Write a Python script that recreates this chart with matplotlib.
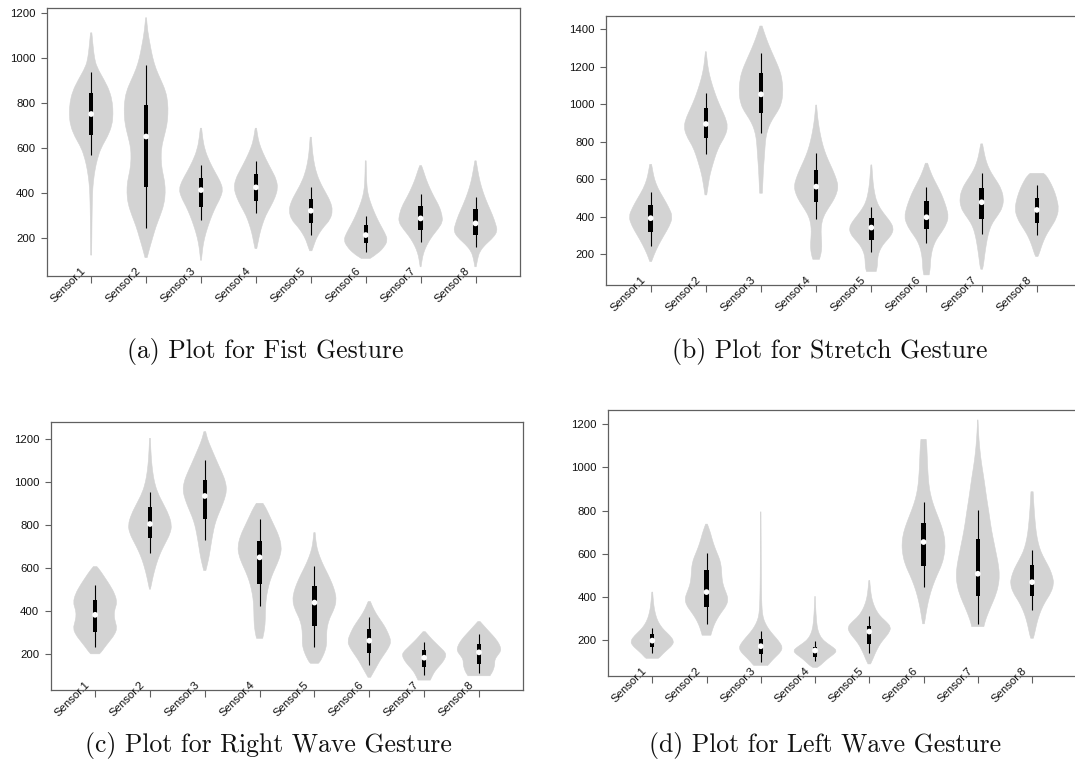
import matplotlib
matplotlib.use('Agg')
import matplotlib.pyplot as plt
from matplotlib.path import Path
from matplotlib.patches import PathPatch
import matplotlib.transforms as mtransforms

plt.rcParams['font.family'] = ['Liberation Sans', 'DejaVu Sans']

sensors = ['Sensor.1', 'Sensor.2', 'Sensor.3', 'Sensor.4',
           'Sensor.5', 'Sensor.6', 'Sensor.7', 'Sensor.8']

captions = ['(a) Plot for Fist Gesture', '(b) Plot for Stretch Gesture',
            '(c) Plot for Right Wave Gesture', '(d) Plot for Left Wave Gesture']

# ---------------- (a) Fist ----------------
fist_median = [750, 650, 412, 424, 320, 212, 286, 264]
fist_q1 = [658, 424, 338, 365, 267, 175, 234, 212]
fist_q3 = [843, 790, 465, 484, 372, 255, 341, 328]
fist_wlo = [568, 242, 279, 308, 212, 138, 182, 157]
fist_whi = [935, 970, 524, 542, 427, 296, 395, 383]
fist_profiles = [
    [(1111, .03), (1080, .06), (1040, .1), (1000, .15), (960, .25), (900, .6), (850, .85), (800, .97),
     (750, 1.0), (700, .95), (650, .75), (600, .45), (550, .28), (500, .17), (450, .1), (400, .06),
     (300, .04), (200, .03), (123, .02)],
    [(1178, .02), (1120, .07), (1050, .2), (1000, .3), (950, .45), (900, .68), (850, .9), (800, .99),
     (750, 1.0), (700, .95), (650, .82), (600, .7), (550, .68), (500, .73), (450, .85), (400, .88),
     (350, .82), (300, .65), (250, .45), (200, .3), (150, .15), (112, .05)],
    [(687, .03), (640, .08), (590, .18), (540, .38), (490, .65), (450, .88), (415, 1.0), (380, .9),
     (340, .68), (300, .5), (260, .35), (220, .22), (180, .12), (140, .06), (100, .02)],
    [(687, .03), (640, .1), (600, .22), (550, .45), (500, .72), (460, .93), (420, 1.0), (380, .88),
     (340, .68), (300, .45), (260, .3), (220, .18), (180, .1), (152, .04)],
    [(647, .03), (600, .06), (550, .12), (500, .22), (450, .4), (400, .68), (360, .9), (320, 1.0),
     (280, .88), (250, .6), (220, .38), (190, .22), (160, .12), (142, .05)],
    [(542, .02), (480, .03), (420, .06), (380, .14), (340, .28), (300, .45), (260, .65), (220, .88),
     (190, 1.0), (160, .85), (130, .55), (108, .2)],
    [(521, .04), (500, .12), (460, .25), (420, .42), (380, .62), (340, .85), (300, .98), (270, 1.0),
     (240, .8), (210, .55), (180, .35), (150, .2), (120, .1), (90, .05), (71, .02)],
    [(542, .03), (500, .1), (450, .2), (400, .35), (350, .55), (300, .78), (260, .92), (230, 1.0),
     (200, .8), (170, .45), (140, .2), (110, .1), (71, .03)],
]

# ---------------- (b) Stretch ----------------
stretch_median = [392, 894, 1052, 560, 342, 397, 477, 436]
stretch_q1 = [317, 818, 951, 477, 276, 333, 388, 369]
stretch_q3 = [461, 977, 1167, 649, 392, 486, 553, 502]
stretch_wlo = [244, 734, 844, 388, 214, 259, 307, 300]
stretch_whi = [530, 1057, 1270, 738, 450, 560, 635, 568]
stretch_profiles = [
    [(679, .04), (640, .1), (600, .17), (550, .33), (500, .58), (450, .82), (400, 1.0), (350, .85),
     (300, .6), (250, .36), (200, .16), (161, .04)],
    [(1279, .02), (1230, .06), (1180, .12), (1130, .22), (1080, .35), (1030, .5), (980, .68), (930, .88),
     (880, 1.0), (830, .88), (780, .62), (730, .45), (680, .32), (630, .2), (580, .12), (516, .04)],
    [(1416, .05), (1380, .15), (1330, .3), (1280, .48), (1230, .67), (1180, .85), (1130, .96), (1060, 1.0),
     (1000, .92), (960, .75), (920, .52), (880, .35), (840, .25), (800, .2), (750, .17), (700, .14),
     (650, .11), (600, .09), (525, .06)],
    [(995, .02), (950, .05), (900, .1), (850, .17), (800, .26), (750, .38), (700, .55), (650, .75),
     (600, .92), (560, 1.0), (520, .92), (480, .75), (440, .52), (400, .33), (360, .24), (320, .22),
     (280, .24), (240, .26), (200, .22), (173, .15)],
    [(676, .02), (630, .05), (580, .08), (530, .14), (480, .24), (440, .42), (400, .68), (370, .88),
     (340, 1.0), (310, .95), (280, .75), (250, .52), (220, .38), (190, .3), (160, .28), (130, .27),
     (108, .22)],
    [(685, .05), (660, .12), (620, .25), (580, .42), (540, .6), (500, .75), (450, .9), (400, 1.0),
     (360, .9), (320, .7), (280, .45), (240, .3), (200, .22), (160, .18), (120, .17), (90, .12)],
    [(788, .04), (750, .1), (710, .17), (670, .28), (630, .45), (590, .68), (550, .88), (500, 1.0),
     (450, .95), (410, .75), (370, .5), (330, .35), (280, .25), (230, .18), (180, .12), (140, .08),
     (120, .04)],
    [(631, .3), (620, .42), (590, .58), (550, .75), (500, .9), (440, 1.0), (390, .88), (350, .68),
     (310, .46), (270, .3), (230, .18), (200, .1), (188, .05)],
]

# ---------------- (c) Right Wave ----------------
rwave_median = [383, 805, 935, 650, 440, 263, 184, 209]
rwave_q1 = [305, 739, 827, 527, 329, 205, 140, 154]
rwave_q3 = [452, 883, 1010, 728, 517, 316, 220, 248]
rwave_wlo = [233, 669, 731, 424, 236, 150, 104, 112]
rwave_whi = [522, 952, 1102, 828, 610, 372, 259, 293]
rwave_profiles = [
    [(607, .08), (590, .22), (560, .42), (520, .68), (480, .9), (440, 1.0), (410, .9), (380, .86),
     (350, .92), (320, 1.0), (290, .88), (260, .65), (230, .42), (210, .28), (202, .2)],
    [(1203, .02), (1150, .04), (1100, .07), (1050, .12), (1000, .2), (950, .35), (900, .6), (850, .85),
     (800, 1.0), (760, .92), (720, .72), (680, .52), (640, .36), (600, .24), (560, .14), (520, .06),
     (502, .02)],
    [(1234, .04), (1200, .12), (1160, .28), (1120, .45), (1080, .62), (1040, .8), (1000, .95), (960, 1.0),
     (920, .9), (880, .75), (840, .58), (800, .45), (760, .37), (720, .3), (680, .24), (640, .17),
     (610, .1), (589, .05)],
    [(901, .15), (880, .28), (850, .42), (800, .65), (750, .88), (700, 1.0), (660, .95), (620, .8),
     (580, .62), (540, .47), (500, .37), (460, .3), (420, .27), (380, .26), (340, .25), (300, .2),
     (274, .14)],
    [(765, .03), (730, .06), (690, .12), (650, .25), (610, .42), (570, .62), (530, .8), (490, .94),
     (450, 1.0), (410, .9), (370, .7), (330, .58), (290, .55), (250, .56), (220, .5), (190, .38),
     (165, .25), (158, .18)],
    [(445, .05), (420, .15), (390, .3), (360, .5), (330, .7), (300, .85), (260, 1.0), (230, .88),
     (200, .68), (170, .48), (140, .32), (115, .18), (93, .06)],
    [(305, .05), (290, .18), (270, .35), (250, .55), (230, .75), (210, .95), (195, 1.0), (175, .92),
     (155, .78), (135, .6), (115, .45), (95, .35), (80, .28)],
    [(352, .05), (335, .2), (310, .42), (285, .65), (260, .85), (235, .98), (215, 1.0), (195, .85),
     (175, .72), (155, .72), (135, .68), (115, .6), (100, .5)],
]

# ---------------- (d) Left Wave ----------------
lwave_median = [197, 422, 171, 151, 239, 654, 507, 468]
lwave_q1 = [166, 355, 135, 120, 182, 543, 403, 406]
lwave_q3 = [228, 523, 205, 169, 265, 740, 670, 549]
lwave_wlo = [138, 275, 100, 101, 138, 445, 275, 337]
lwave_whi = [256, 605, 241, 194, 309, 840, 802, 616]
lwave_profiles = [
    [(422, .02), (380, .05), (340, .1), (300, .2), (270, .35), (245, .55), (220, .82), (195, 1.0),
     (175, .92), (155, .7), (135, .48), (120, .35), (115, .28)],
    [(737, .04), (715, .12), (690, .2), (660, .28), (630, .38), (600, .5), (570, .62), (540, .68),
     (510, .7), (480, .72), (450, .78), (420, .9), (390, 1.0), (360, .92), (330, .7), (300, .5),
     (270, .35), (240, .25), (222, .2)],
    [(794, .01), (700, .015), (600, .02), (500, .025), (420, .035), (360, .05), (320, .08), (290, .15),
     (260, .3), (235, .48), (210, .7), (185, .9), (165, 1.0), (145, .92), (125, .72), (105, .52),
     (88, .38), (82, .32)],
    [(402, .01), (350, .03), (300, .06), (260, .1), (230, .18), (205, .32), (185, .55), (165, .85),
     (150, 1.0), (135, .88), (115, .6), (95, .38), (80, .22), (73, .1)],
    [(476, .02), (440, .05), (400, .1), (370, .18), (340, .3), (310, .5), (285, .78), (260, 1.0),
     (235, .92), (210, .72), (185, .52), (160, .38), (135, .26), (110, .16), (89, .06)],
    [(1130, .12), (1100, .15), (1050, .17), (1000, .19), (950, .22), (900, .27), (850, .38), (800, .55),
     (750, .75), (700, .92), (650, 1.0), (600, .97), (550, .85), (500, .62), (450, .42), (400, .27),
     (350, .16), (300, .08), (275, .04)],
    [(1220, .01), (1150, .04), (1100, .08), (1050, .13), (1000, .2), (950, .28), (900, .35), (850, .42),
     (800, .5), (750, .57), (700, .65), (650, .75), (600, .85), (550, .95), (500, 1.0), (450, .95),
     (400, .8), (350, .58), (310, .42), (280, .32), (262, .28)],
    [(887, .05), (850, .07), (800, .1), (750, .14), (700, .19), (650, .28), (610, .4), (570, .6),
     (530, .82), (490, .96), (460, 1.0), (420, .88), (380, .62), (340, .42), (300, .28), (260, .18),
     (230, .12), (208, .06)],
]

W, H = 1075, 773
fig = plt.figure(figsize=(W / 100, H / 100), dpi=100)

# axes boxes in pixels: left, right, top, bottom
boxes = [(46.7, 520.0, 8.3, 276.0), (606.0, 1081.5, 15.7, 285.0),
         (50.7, 523.4, 421.7, 690.0), (608.3, 1076.0, 410.0, 676.0)]
ylims = [(30, 1220), (36, 1471), (34, 1280), (33, 1266)]
yticks = [range(200, 1201, 200), range(200, 1401, 200), range(200, 1201, 200), range(200, 1201, 200)]
caption_pos = [(265, 358), (830, 358), (268, 752), (825, 752)]

panels = [
    (fist_profiles, fist_median, fist_q1, fist_q3, fist_wlo, fist_whi),
    (stretch_profiles, stretch_median, stretch_q1, stretch_q3, stretch_wlo, stretch_whi),
    (rwave_profiles, rwave_median, rwave_q1, rwave_q3, rwave_wlo, rwave_whi),
    (lwave_profiles, lwave_median, lwave_q1, lwave_q3, lwave_wlo, lwave_whi),
]

VIOLIN = '#d3d3d3'
SPINE = '#606060'
HW = 0.4


def smooth_side(pts, verts, codes):
    # quadratic B-spline through knot polygon (library Bezier rendering)
    n = len(pts)
    if n < 3:
        for p in pts[1:]:
            verts.append(p); codes.append(Path.LINETO)
        return
    mid = lambda a, b: ((a[0] + b[0]) / 2, (a[1] + b[1]) / 2)
    verts.append(mid(pts[0], pts[1])); codes.append(Path.LINETO)
    for i in range(1, n - 1):
        verts.append(pts[i]); codes.append(Path.CURVE3)
        verts.append(mid(pts[i], pts[i + 1]) if i < n - 2 else pts[-1]); codes.append(Path.CURVE3)


def violin_patch(xc, prof):
    right = [(xc + w * HW, v) for v, w in prof]
    left = [(xc - w * HW, v) for v, w in prof][::-1]
    verts = [right[0]]; codes = [Path.MOVETO]
    smooth_side(right, verts, codes)
    verts.append(left[0]); codes.append(Path.LINETO)
    smooth_side(left, verts, codes)
    verts.append(right[0]); codes.append(Path.CLOSEPOLY)
    return PathPatch(Path(verts, codes), facecolor=VIOLIN, edgecolor=VIOLIN, lw=0.4, zorder=1)


for k, (box, ylim, yt, data) in enumerate(zip(boxes, ylims, yticks, panels)):
    l, r, t, b = box
    ax = fig.add_axes([l / W, 1 - b / H, (r - l) / W, (b - t) / H])
    profiles, med, q1, q3, wlo, whi = data
    xs = list(range(1, len(sensors) + 1))
    for x, prof in zip(xs, profiles):
        ax.add_patch(violin_patch(x, prof))
    ax.vlines(xs, wlo, whi, color='black', lw=0.8, zorder=2)
    ax.bar(xs, [a - c for a, c in zip(q3, q1)], bottom=q1, width=0.08,
           color='black', zorder=3)
    ax.scatter(xs, med, s=17, color='white', edgecolors='none', zorder=4)
    ax.set_xlim(0.19, 8.81)
    ax.set_ylim(*ylim)
    ax.set_yticks(list(yt))
    ax.set_xticks(xs)
    ax.set_xticklabels([])
    ax.tick_params(axis='y', direction='out', length=4.2, width=0.8, color=SPINE,
                   pad=4, labelsize=8.2, labelcolor='#111111')
    ax.tick_params(axis='x', direction='out', length=5.3, width=0.8, color=SPINE)
    for s in ax.spines.values():
        s.set_color(SPINE)
        s.set_linewidth(0.9)
    trans = mtransforms.offset_copy(ax.get_xaxis_transform(), fig=fig, x=-7.0, y=7.0, units='dots')
    for x, lab in zip(xs, sensors):
        ax.text(x, 0, lab, transform=trans, rotation=45, ha='right', va='center',
                rotation_mode='anchor', fontsize=8.2, color='#111111', clip_on=False)
    cx, cy = caption_pos[k]
    fig.text(cx / W, 1 - cy / H, captions[k], ha='center', va='baseline',
             fontsize=18.5, family='cmr10', color='#111111')

fig.savefig('out.png', dpi=100)
